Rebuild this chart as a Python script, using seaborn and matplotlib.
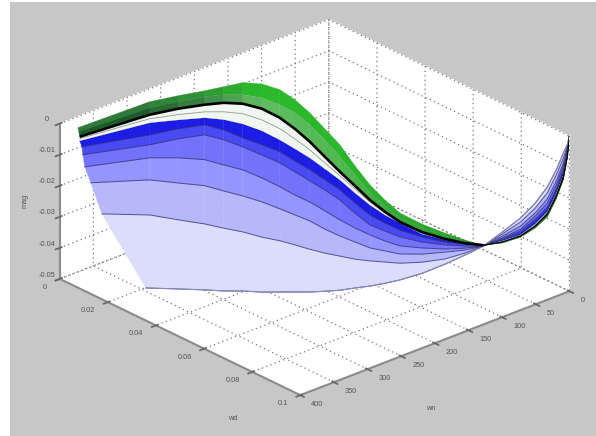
import numpy as np
import seaborn as sns
import matplotlib
matplotlib.use('Agg')
import matplotlib.pyplot as plt
from matplotlib.patches import Rectangle

# stations along the x axis shared by most of the curves
x_grid = [390, 280, 244, 208, 188, 168, 156, 144, 134, 124, 116, 108, 102, 96, 92, 88, 86, 84, 82, 80, 68, 56, 36, 20, 12, 4, 1.2, 0]
y_grid = [0.0039, 0.0055, 0.0066, 0.0089, 0.0112, 0.0158, 0.0199, 0.0234, 0.0268, 0.0308, 0.0348, 0.0394, 0.044, 0.0491,
          0.0542, 0.0628, 0.0719, 0.0796, 0.0866, 0.0911, 0.0953, 0.0959, 0.0964, 0.0979, 0.0986, 0.0995, 0.1]

# first y value of every curve
y0_g0, y0_g1, y0_k, y0_w, y0_b0 = 0.0047, 0.0051, 0.0055, 0.0055, 0.0055
y0_b1, y0_b2, y0_b3, y0_b4 = 0.0064, 0.0068, 0.0076, 0.0101

# z values, in thousandths below zero
z_g0 = [0.4, 1.5, 2.0, 3.0, 2.5, 2.0, 1.7, 3.0, 5.8, 9.6, 13.9, 18.2, 23.8, 28.7, 32.0, 34.6, 35.1, 34.8, 34.3, 33.5, 32.1, 29.7, 28.2, 25.8, 20.1, 14.4, 7.2, 0]
z_g1 = [1.5, 3.5, 3.9, 4.9, 5.1, 5.9, 6.2, 7.9, 10.0, 13.4, 17.4, 22.1, 26.7, 31.3, 33.9, 36.2, 36.4, 35.7, 34.9, 33.5, 32.1, 29.7, 27.9, 25.5, 19.8, 14.1, 6.9, 0]
z_k = [3.0, 5.7, 6.2, 7.5, 7.7, 8.8, 9.7, 12.1, 15.2, 18.9, 22.9, 26.9, 30.2, 33.6, 35.8, 37.5, 37.7, 36.7, 35.3, 33.5, 31.8, 29.3, 27.5, 24.8, 19.1, 13.4, 6.5, 0]
z_w = [3.6, 7.0, 8.1, 9.8, 10.6, 12.0, 13.3, 15.6, 18.4, 21.5, 24.9, 28.2, 31.2, 34.2, 36.2, 37.6, 38.0, 36.9, 35.3, 33.5, 31.8, 29.2, 27.2, 24.5, 18.8, 13.1, 6.2, 0]
z_b0 = [4.3, 8.3, 9.8, 11.7, 13.1, 15.3, 16.8, 19.2, 21.6, 24.1, 26.8, 29.5, 32.5, 35.2, 36.8, 37.8, 38.3, 37.0, 35.4, 33.5, 31.5, 29.0, 26.9, 24.2, 18.5, 12.8, 5.9, 0]
z_b1 = [5.9, 12.2, 12.7, 14.0, 16.4, 19.8, 21.3, 23.0, 25.5, 27.9, 30.3, 32.7, 35.7, 38.4, 39.4, 40.1, 39.3, 37.7, 35.6, 33.5, 31.2, 28.4, 25.9, 23.2, 17.5, 11.8, 5.6, 0]
z_b2 = [8.3, 15.4, 15.9, 17.2, 19.6, 22.7, 24.6, 26.6, 29.0, 31.5, 33.6, 36.0, 39.0, 41.6, 42.0, 42.3, 40.9, 38.6, 36.2, 33.8, 30.8, 27.7, 25.3, 22.6, 16.9, 11.1, 5.2, 0]
z_b3 = [11.9, 19.6, 22.0, 25.2, 27.7, 30.1, 32.0, 34.3, 36.5, 38.3, 40.3, 42.4, 43.8, 44.8, 45.2, 45.2, 42.8, 39.9, 36.9, 33.8, 30.5, 27.1, 24.3, 21.3, 15.6, 9.9, 4.6, 0]
z_b4 = [16.1, 26.7, 30.1, 33.6, 36.1, 38.5, 39.7, 41.4, 42.9, 44.4, 46.2, 47.6, 48.3, 49.0, 48.4, 47.8, 44.8, 40.9, 37.5, 33.8, 29.9, 26.1, 23.3, 20.0, 14.3, 8.9, 4.0, 0]

# the two lowest curves run on their own stations
x_b5 = [390, 308, 275, 242, 224, 205, 194, 182, 173, 164, 156, 148, 142, 135, 121, 107, 99, 92, 86, 80, 68, 56, 36, 20, 12, 4, 1, 0]
y_b5 = [0.0147, 0.0118, 0.0142, 0.0161, 0.0189, 0.0216, 0.0264, 0.0307, 0.0343, 0.0379, 0.042, 0.0461, 0.0506, 0.055,
        0.0572, 0.0595, 0.0665, 0.0741, 0.0806, 0.0866, 0.0911, 0.0953, 0.0959, 0.0964, 0.0979, 0.0986, 0.0995, 0.1]
z_b5 = [24.4, 32.7, 36.1, 39.5, 41.3, 43.1, 43.9, 44.5, 45.2, 46.0, 46.4, 46.5, 46.3, 45.8, 46.5, 47.2, 44.9, 41.6, 37.8, 33.8, 29.2, 24.8, 21.7, 18.0, 12.3, 7.3, 3.3, 0]
x_bot = [390, 375, 343, 311, 293, 274, 262, 249, 238, 227, 218, 208, 199, 190, 160, 131, 115, 101, 90, 80, 68, 56, 36, 20, 12, 4, 1, 0]
y_bot = [0.033, 0.0303, 0.0331, 0.0355, 0.0383, 0.041, 0.0454, 0.0493, 0.0525, 0.0558, 0.0593, 0.0628, 0.0666, 0.0704,
         0.0681, 0.0663, 0.0711, 0.0767, 0.0817, 0.0866, 0.0911, 0.0953, 0.0959, 0.0964, 0.0979, 0.0986, 0.0995, 0.1]
z_bot = [41.4, 43.7, 45.6, 47.7, 48.5, 49.1, 48.8, 48.4, 48.1, 47.8, 47.0, 46.2, 44.8, 43.5, 46.0, 48.0, 45.4, 41.5, 37.7, 33.8, 28.6, 23.5, 20.1, 16.1, 10.7, 5.7, 2.7, 0]

x_ticks = [0, 50, 100, 150, 200, 250, 300, 350, 400]
y_ticks = [0, 0.02, 0.04, 0.06, 0.08, 0.1]
z_ticks = [0, -0.01, -0.02, -0.03, -0.04, -0.05]
x_ticklabels = ['0', '50', '100', '150', '200', '250', '300', '350', '400']
y_ticklabels = ['0', '0.02', '0.04', '0.06', '0.08', '0.1']
z_ticklabels = ['0', '-0.01', '-0.02', '-0.03', '-0.04', '-0.05']

sns.set_theme(style='whitegrid', rc={'grid.color': '#777777', 'grid.linestyle': (0, (1, 2.6)), 'grid.linewidth': 0.9,
                                     'axes.edgecolor': '#8a8a8a', 'axes.linewidth': 1.2,
                                     'xtick.color': '#666666', 'ytick.color': '#666666'})
plt.rcParams['font.family'] = ['Liberation Sans', 'DejaVu Sans']

GRAY = '#c7c7c7'
fig = plt.figure(figsize=(5.96, 4.36), dpi=100, facecolor=GRAY)
fig.add_artist(Rectangle((0, 0), 10 / 596, 1, transform=fig.transFigure, color='white', lw=0))
fig.add_artist(Rectangle((0, 1 - 2 / 436), 1, 2 / 436, transform=fig.transFigure, color='white', lw=0))

ax = fig.add_axes([46 / 596, -40 / 436, 523 / 596, 523 / 436], projection='3d', proj_type='ortho', computed_zorder=False)
ax.patch.set_alpha(0)
ax.view_init(elev=25.6, azim=48.2)
ax.set_box_aspect((1, 1, 0.477))
ax.set_xlim(0, 400, view_margin=0)
ax.set_ylim(0, 0.1, view_margin=0)
ax.set_zlim(-0.05, 0, view_margin=0)
for axis in (ax.xaxis, ax.yaxis, ax.zaxis):
    axis.set_pane_color('white')
    axis.pane.set_edgecolor('white')
    axis.line.set_linewidth(1.5)


def curve(y0, z):
    return np.array(x_grid), np.array([y0] + y_grid), np.array(z) * -1e-3


g0 = curve(y0_g0, z_g0)
g1 = curve(y0_g1, z_g1)
k = curve(y0_k, z_k)
w = curve(y0_w, z_w)
b0 = curve(y0_b0, z_b0)
b1 = curve(y0_b1, z_b1)
b2 = curve(y0_b2, z_b2)
b3 = curve(y0_b3, z_b3)
b4 = curve(y0_b4, z_b4)
b5 = (np.array(x_b5), np.array(y_b5), np.array(z_b5) * -1e-3)
bot = (np.array(x_bot), np.array(y_bot), np.array(z_bot) * -1e-3)


def band(lo, hi, z_order, color=None, colors=None):
    X, Y, Z = [np.vstack([lo[i], hi[i]]) for i in range(3)]
    if colors is not None:
        fc = np.array([colors, colors])
        ax.plot_surface(X, Y, Z, facecolors=fc, shade=False, rstride=1, cstride=1, linewidth=0.2, zorder=z_order)
    else:
        ax.plot_surface(X, Y, Z, color=color, edgecolor=color, shade=False, rstride=1, cstride=1, linewidth=0.2, zorder=z_order)


# blues get lighter towards the lowest curve
blues = sns.blend_palette(['#1c1ce4', '#4a4af2', '#7272fb', '#9595fd', '#b7b7fc', '#dcdcfb'], 6)
stack = [b0, b1, b2, b3, b4, b5, bot]
for i in range(6):
    band(stack[i], stack[i + 1], 10 + i, color=blues[i])
    ax.plot(*stack[i + 1], color='#24246e', lw=0.7, alpha=0.75, zorder=20)
ax.plot(*bot, color='#8a8ac0', lw=0.8, zorder=20)
ax.plot(*stack[0], color='#1010a0', lw=0.5, zorder=20)

# white stripe with the thin grey line inside it
band(k, b0, 21, color='#f2f6f2')
ax.plot(*w, color='#8c9c8c', lw=0.6, zorder=22)

# green fan, dark on the left and bright over the crest
greens_top = sns.blend_palette(['#2f7a3a', '#2bbb2b', '#2bb52b', '#2aa62a', '#1f7f22', '#144a14'], 28)
greens_low = sns.blend_palette(['#1c5a2a', '#62bc62', '#4fb84f', '#2f9a32', '#1a6a1e', '#0e3010'], 28)
band(g1, g0, 23, colors=greens_top)
band(k, g1, 24, colors=greens_low)

# black line is thick up to where the curves meet and thin along the lens
ax.plot(k[0][:20], k[1][:20], k[2][:20], color='black', lw=1.9, solid_capstyle='butt', zorder=25)
ax.plot(k[0][19:], k[1][19:], k[2][19:], color='black', lw=0.9, zorder=25)

ax.set_xticks(x_ticks, x_ticklabels, ha='left', va='bottom')
ax.set_yticks(y_ticks, y_ticklabels, ha='right', va='bottom')
ax.set_zticks(z_ticks, z_ticklabels, va='bottom')
ax.tick_params(axis='both', labelsize=5.3, labelcolor='#555555', pad=1)
ax.tick_params(axis='z', labelsize=5.3, labelcolor='#555555', pad=-3)

fig.text(431 / 596, 1 - 408 / 436, 'wn', fontsize=5.3, color='#555555', ha='center', va='center')
fig.text(233 / 596, 1 - 418 / 436, 'wd', fontsize=5.3, color='#555555', ha='center', va='center')
fig.text(25 / 596, 1 - 201 / 436, 'mag', fontsize=5.3, color='#555555', ha='center', va='center', rotation=90)

fig.savefig('out.png', dpi=100, facecolor=GRAY)
